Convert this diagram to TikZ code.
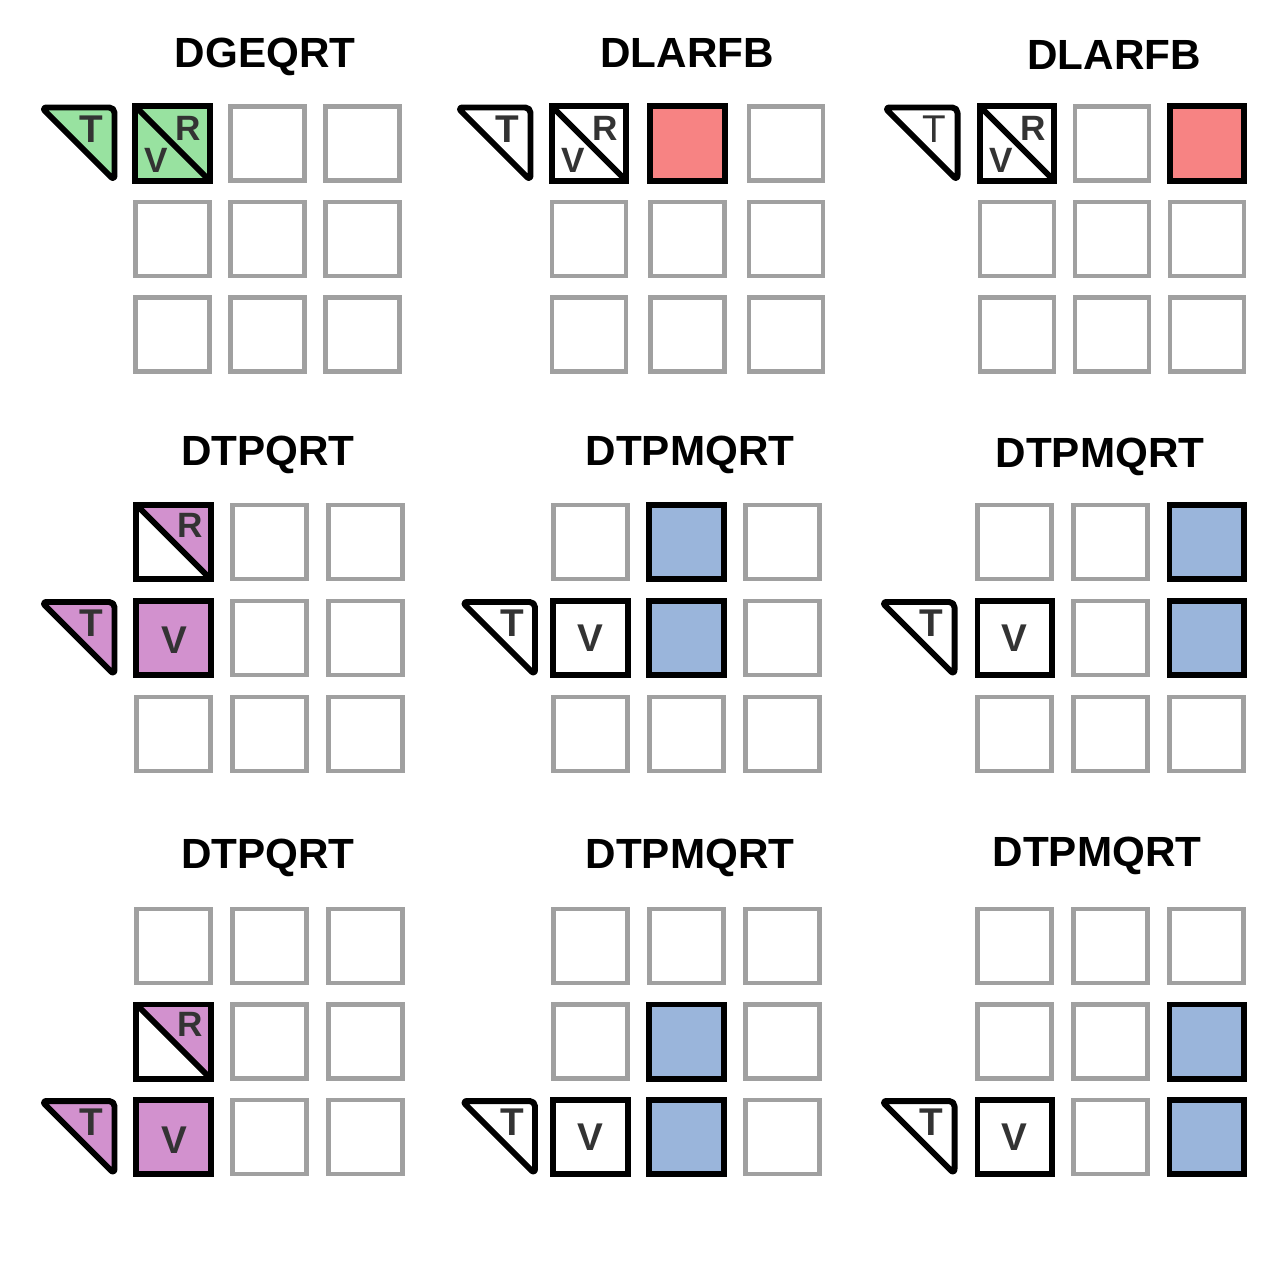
\documentclass[tikz,border=0pt]{standalone}
\usepackage{fontspec}
\setmainfont{Liberation Sans}
\usepackage{tikz}

\definecolor{cellgray}{HTML}{A0A0A0}
\definecolor{lblgray}{HTML}{333333}
\definecolor{qrgreen}{HTML}{98E2A0}
\definecolor{rfred}{HTML}{F78383}
\definecolor{mqblue}{HTML}{9AB5DB}
\definecolor{tppurple}{HTML}{D291CE}

\begin{document}
\begin{tikzpicture}[x=0.01cm,y=-0.01cm,
    cell/.style={draw=cellgray, line width=1.2pt, minimum size=0.74cm, inner sep=0pt, outer sep=0pt},
    blk/.style={draw=black, line width=1.7pt, minimum size=0.74cm, inner sep=0pt, outer sep=0pt},
    split/.style={blk, path picture={
        \fill[#1] (path picture bounding box.north west) -- (path picture bounding box.north east)
            -- (path picture bounding box.south east) -- cycle;
        \draw[line width=1.7pt] (path picture bounding box.north west) -- (path picture bounding box.south east);}},
    tri/.style={draw=black, line width=1.7pt, line join=round, rounded corners=1.5pt},
    ttl/.style={font=\bfseries\fontsize{12}{14}\selectfont, anchor=base},
    lbl/.style={text=lblgray, font=\bfseries\fontsize{11}{13}\selectfont, inner sep=0pt},
    vlbl/.style={text=lblgray, font=\bfseries\fontsize{11}{13}\selectfont, inner sep=0pt},
    slbl/.style={text=lblgray, font=\bfseries\fontsize{10}{12}\selectfont, inner sep=0pt}]
    \useasboundingbox (0,0) rectangle (1285,1285);

    % panel 1
    \node[ttl] (h1) at (265,68) {DGEQRT};
    \foreach \r/\c in {1/2,1/3,2/1,2/2,2/3,3/1,3/2,3/3}
        \node[cell] (p1c\r\c) at ({77.5+95*\c},{48+95.5*\r}) {};
    \node[split=qrgreen, fill=qrgreen] (p1c11) at (172.5,143.5) {};
    \node[slbl] (p1R) at ([shift={(16,-15.5)}]p1c11) {R};
    \node[slbl] (p1V) at ([shift={(-16,16.5)}]p1c11) {V};
    \coordinate (p1t) at (78.5,143.5);
    \draw[tri, fill=qrgreen] ([shift={(-37,-36)}]p1t) -- ([shift={(36,-36)}]p1t) -- ([shift={(36,37)}]p1t) -- cycle;
    \node[lbl] (p1T) at ([shift={(13,-14.5)}]p1t) {T};

    % panel 2
    \node[ttl] (h2) at (687,68) {DLARFB};
    \foreach \r/\c in {1/3,2/1,2/2,2/3,3/1,3/2,3/3}
        \node[cell] (p2c\r\c) at ({490.5+98.5*\c},{48+95.5*\r}) {};
    \node[split=white] (p2c11) at (589,143.5) {};
    \node[slbl] (p2R) at ([shift={(16,-15.5)}]p2c11) {R};
    \node[slbl] (p2V) at ([shift={(-16,16.5)}]p2c11) {V};
    \node[blk, fill=rfred] (p2c12) at (687.5,143.5) {};
    \coordinate (p2t) at (494.5,143.5);
    \draw[tri] ([shift={(-37,-36)}]p2t) -- ([shift={(36,-36)}]p2t) -- ([shift={(36,37)}]p2t) -- cycle;
    \node[lbl] (p2T) at ([shift={(13,-14.5)}]p2t) {T};

    % panel 3
    \node[ttl] (h3) at (1114,70) {DLARFB};
    \foreach \r/\c in {1/2,2/1,2/2,2/3,3/1,3/2,3/3}
        \node[cell] (p3c\r\c) at ({922+95*\c},{48+95.5*\r}) {};
    \node[split=white] (p3c11) at (1017,143.5) {};
    \node[slbl] (p3R) at ([shift={(16,-15.5)}]p3c11) {R};
    \node[slbl] (p3V) at ([shift={(-16,16.5)}]p3c11) {V};
    \node[blk, fill=rfred] (p3c13) at (1207,143.5) {};
    \coordinate (p3t) at (921.5,143.5);
    \draw[tri] ([shift={(-37,-36)}]p3t) -- ([shift={(36,-36)}]p3t) -- ([shift={(36,37)}]p3t) -- cycle;
    \node[lbl, font=\fontsize{11}{13}\selectfont] (p3T) at ([shift={(13,-14.5)}]p3t) {T};

    % panel 4
    \node[ttl] (h4) at (268,465) {DTPQRT};
    \foreach \r/\c in {1/2,1/3,2/2,2/3,3/1,3/2,3/3}
        \node[cell] (p4c\r\c) at ({77.5+96*\c},{446+96*\r}) {};
    \node[split=tppurple, fill=white] (p4c11) at (173.5,542) {};
    \node[slbl] (p4R) at ([shift={(16.5,-17)}]p4c11) {R};
    \node[blk, fill=tppurple] (p4c21) at (173.5,638) {};
    \node[vlbl] (p4V) at ([shift={(1,2)}]p4c21) {V};
    \coordinate (p4t) at (78.5,638);
    \draw[tri, fill=tppurple] ([shift={(-37,-36)}]p4t) -- ([shift={(36,-36)}]p4t) -- ([shift={(36,37)}]p4t) -- cycle;
    \node[lbl] (p4T) at ([shift={(13,-14.5)}]p4t) {T};

    % panel 5
    \node[ttl] (h5) at (690,465) {DTPMQRT};
    \foreach \r/\c in {1/1,1/3,2/3,3/1,3/2,3/3}
        \node[cell] (p5c\r\c) at ({494.5+96*\c},{446+96*\r}) {};
    \node[blk, fill=mqblue] (p5c12) at (686.5,542) {};
    \node[blk, fill=mqblue] (p5c22) at (686.5,638) {};
    \node[blk, fill=white] (p5c21) at (590.5,638) {};
    \node[vlbl] (p5V) at (p5c21) {V};
    \coordinate (p5t) at (499,638);
    \draw[tri] ([shift={(-37,-36)}]p5t) -- ([shift={(36,-36)}]p5t) -- ([shift={(36,37)}]p5t) -- cycle;
    \node[lbl] (p5T) at ([shift={(13,-14.5)}]p5t) {T};

    % panel 6
    \node[ttl] (h6) at (1100,467) {DTPMQRT};
    \foreach \r/\c in {1/1,1/2,2/2,3/1,3/2,3/3}
        \node[cell] (p6c\r\c) at ({918.5+96*\c},{446+96*\r}) {};
    \node[blk, fill=mqblue] (p6c13) at (1206.5,542) {};
    \node[blk, fill=mqblue] (p6c23) at (1206.5,638) {};
    \node[blk, fill=white] (p6c21) at (1014.5,638) {};
    \node[vlbl] (p6V) at (p6c21) {V};
    \coordinate (p6t) at (918.5,638);
    \draw[tri] ([shift={(-37,-36)}]p6t) -- ([shift={(36,-36)}]p6t) -- ([shift={(36,37)}]p6t) -- cycle;
    \node[lbl] (p6T) at ([shift={(13,-14.5)}]p6t) {T};

    % panel 7
    \node[ttl] (h7) at (268,868) {DTPQRT};
    \foreach \r/\c in {1/1,1/2,1/3,2/2,2/3,3/2,3/3}
        \node[cell] (p7c\r\c) at ({77.5+96*\c},{850.5+95.5*\r}) {};
    \node[split=tppurple, fill=white] (p7c21) at (173.5,1041.5) {};
    \node[slbl] (p7R) at ([shift={(16.5,-17)}]p7c21) {R};
    \node[blk, fill=tppurple] (p7c31) at (173.5,1137) {};
    \node[vlbl] (p7V) at ([shift={(1,3)}]p7c31) {V};
    \coordinate (p7t) at (78.5,1137);
    \draw[tri, fill=tppurple] ([shift={(-37,-36)}]p7t) -- ([shift={(36,-36)}]p7t) -- ([shift={(36,37)}]p7t) -- cycle;
    \node[lbl] (p7T) at ([shift={(13,-14.5)}]p7t) {T};

    % panel 8
    \node[ttl] (h8) at (690,868) {DTPMQRT};
    \foreach \r/\c in {1/1,1/2,1/3,2/1,2/3,3/3}
        \node[cell] (p8c\r\c) at ({494.5+96*\c},{850.5+95.5*\r}) {};
    \node[blk, fill=mqblue] (p8c22) at (686.5,1041.5) {};
    \node[blk, fill=mqblue] (p8c32) at (686.5,1137) {};
    \node[blk, fill=white] (p8c31) at (590.5,1137) {};
    \node[vlbl] (p8V) at (p8c31) {V};
    \coordinate (p8t) at (499,1137);
    \draw[tri] ([shift={(-37,-36)}]p8t) -- ([shift={(36,-36)}]p8t) -- ([shift={(36,37)}]p8t) -- cycle;
    \node[lbl] (p8T) at ([shift={(13,-14.5)}]p8t) {T};

    % panel 9
    \node[ttl] (h9) at (1097,866) {DTPMQRT};
    \foreach \r/\c in {1/1,1/2,1/3,2/1,2/2,3/2}
        \node[cell] (p9c\r\c) at ({918.5+96*\c},{850.5+95.5*\r}) {};
    \node[blk, fill=mqblue] (p9c23) at (1206.5,1041.5) {};
    \node[blk, fill=mqblue] (p9c33) at (1206.5,1137) {};
    \node[blk, fill=white] (p9c31) at (1014.5,1137) {};
    \node[vlbl] (p9V) at (p9c31) {V};
    \coordinate (p9t) at (918.5,1137);
    \draw[tri] ([shift={(-37,-36)}]p9t) -- ([shift={(36,-36)}]p9t) -- ([shift={(36,37)}]p9t) -- cycle;
    \node[lbl] (p9T) at ([shift={(13,-14.5)}]p9t) {T};
\end{tikzpicture}
\end{document}
